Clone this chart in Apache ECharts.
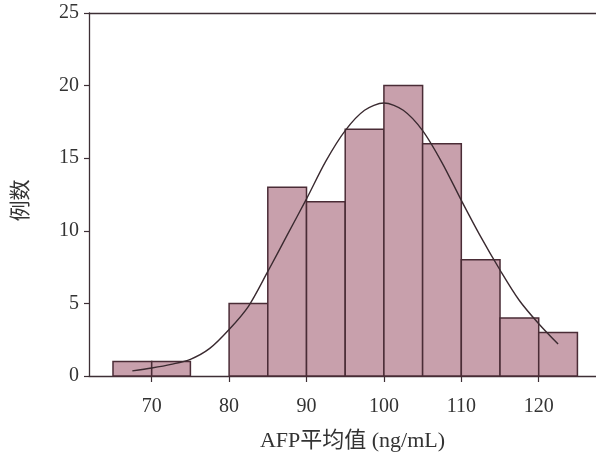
<!DOCTYPE html>
<html>
<head>
<meta charset="utf-8">
<script src="https://cdn.jsdelivr.net/npm/echarts@6/dist/echarts.min.js"></script>
<style>html,body{margin:0;padding:0;background:#fff}#c{width:596px;height:453px}</style>
</head>
<body>
<div id="c"></div>
<script>
// Histogram bins (lower edge, upper edge) and counts
const binStarts = [65, 70, 75, 80, 85, 90, 95, 100, 105, 110, 115, 120];
const binWidth = 5;
const counts = [1, 1, 0, 5, 13, 12, 17, 20, 16, 8, 4, 3];
// Fitted normal curve
const curveX = [67.5, 70, 72.5, 75, 77.5, 80, 82.5, 85, 87.5, 90, 92.5, 95, 97.5, 100, 102.5, 105, 107.5, 110, 112.5, 115, 117.5, 120, 122.5];
const curveY = [0.35, 0.55, 0.8, 1.15, 1.9, 3.2, 4.8, 7.2, 9.7, 12.2, 14.8, 16.9, 18.3, 18.8, 18.3, 16.9, 14.7, 12.1, 9.6, 7.3, 5.2, 3.6, 2.2];
const xTicks = [70, 80, 90, 100, 110, 120];

const chart = echarts.init(document.getElementById('c'), null, {renderer: 'canvas'});
const serif = '"Liberation Serif", "DejaVu Serif", "Noto Sans CJK SC", serif';
const axisCol = '#3d2f35';
const textCol = '#333';

const histData = binStarts.map((s, i) => [s, s + binWidth, counts[i]]).filter(d => d[2] > 0);
const curveData = curveX.map((x, i) => [x, curveY[i]]);

chart.setOption({
  animation: false,
  backgroundColor: '#fff',
  grid: {left: 89, right: 0, top: 13, bottom: 77, containLabel: false, outerBoundsMode: 'none'},
  xAxis: [{
    type: 'value', min: 61.9, max: 127.4,
    name: 'AFP平均值 (ng/mL)', nameLocation: 'middle', nameGap: 54,
    nameTextStyle: {fontFamily: serif, fontSize: 22, color: textCol, padding: [0, 0, 0, 20]},
    axisLine: {show: true, lineStyle: {color: axisCol, width: 1.3}},
    axisTick: {show: true, length: 6, customValues: xTicks, lineStyle: {color: axisCol, width: 1.2}},
    axisLabel: {customValues: xTicks, margin: 21, fontFamily: serif, fontSize: 20, color: textCol},
    splitLine: {show: false}
  }, {
    type: 'value', min: 61.9, max: 127.4, position: 'top',
    axisLine: {show: true, lineStyle: {color: axisCol, width: 1.3}},
    axisTick: {show: false}, axisLabel: {show: false}, splitLine: {show: false}
  }],
  yAxis: {
    type: 'value', min: 0, max: 25, interval: 5,
    name: '例数', nameLocation: 'middle', nameGap: 57, nameRotate: 90,
    nameTextStyle: {fontFamily: serif, fontSize: 21, color: textCol, padding: [0, 12, 0, 0]},
    axisLine: {show: true, lineStyle: {color: axisCol, width: 1.3}},
    axisTick: {show: true, length: 5, lineStyle: {color: axisCol, width: 1.2}},
    axisLabel: {margin: 10, fontFamily: serif, fontSize: 20, color: textCol},
    splitLine: {show: false}
  },
  series: [{
    type: 'custom',
    data: histData,
    encode: {x: [0, 1], y: 2},
    renderItem: function (params, api) {
      const p0 = api.coord([api.value(0), api.value(2)]);
      const p1 = api.coord([api.value(1), 0]);
      return {
        type: 'rect',
        shape: {x: p0[0], y: p0[1], width: p1[0] - p0[0], height: p1[1] - p0[1]},
        style: {fill: '#c8a0ac', stroke: '#4a2c36', lineWidth: 1.5}
      };
    },
    z: 2
  }, {
    type: 'line',
    data: curveData,
    smooth: 0.3,
    showSymbol: false,
    lineStyle: {color: '#3a2a30', width: 1.4},
    z: 3
  }]
});
</script>
</body>
</html>
